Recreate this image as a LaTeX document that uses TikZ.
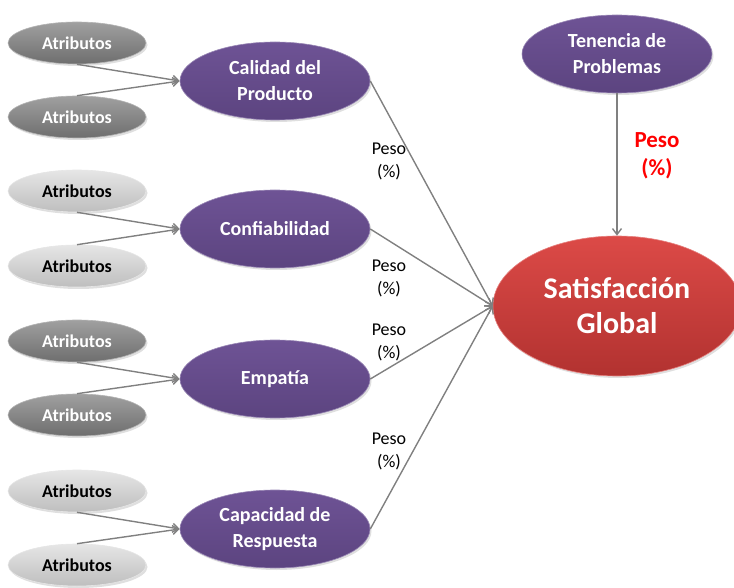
\documentclass[tikz,border=0pt]{standalone}
\usepackage{fontspec}
\setmainfont{Carlito}
\usetikzlibrary{shapes.geometric,arrows.meta,shadows}
\definecolor{dgtop}{HTML}{A0A0A0}
\definecolor{dgbot}{HTML}{6E6E6E}
\definecolor{lgtop}{HTML}{E6E6E6}
\definecolor{lgbot}{HTML}{BEBEBE}
\definecolor{putop}{HTML}{6E5395}
\definecolor{pubot}{HTML}{5C4480}
\definecolor{retop}{HTML}{DC4A47}
\definecolor{rebot}{HTML}{B23230}
\definecolor{arrowgray}{HTML}{808080}
\definecolor{pesored}{HTML}{FF0000}
\tikzset{
  base/.style={ellipse, inner sep=0pt, align=center, font=\bfseries,
    drop shadow={shadow xshift=1.5pt, shadow yshift=-2pt, opacity=0.25}},
  attrdark/.style={base, minimum width=138pt, minimum height=42pt,
    top color=dgtop, bottom color=dgbot, draw=dgtop!80!white, line width=0.6pt,
    text=white, font=\bfseries\fontsize{18}{21}\selectfont},
  attrlight/.style={base, minimum width=138pt, minimum height=42pt,
    top color=lgtop, bottom color=lgbot, draw=lgtop, line width=0.6pt,
    text=black, font=\bfseries\fontsize{18}{21}\selectfont},
  factor/.style={base, minimum width=190pt, minimum height=78pt,
    top color=putop, bottom color=pubot, draw=putop!70!white, line width=0.6pt,
    text=white, font=\bfseries\fontsize{20}{26}\selectfont},
  goal/.style={base, minimum width=248pt, minimum height=140pt,
    top color=retop, bottom color=rebot, draw=retop!70!white, line width=0.6pt,
    text=white, font=\bfseries\fontsize{30}{35}\selectfont},
  conn/.style={draw=arrowgray, line width=1.4pt, -{Straight Barb[length=6pt,width=9pt]}},
  peso/.style={align=center, text=black, font=\fontsize{18}{23}\selectfont},
  pesored/.style={align=center, text=pesored, font=\bfseries\fontsize{23}{28}\selectfont}
}
\begin{document}
\begin{tikzpicture}[x=1pt,y=-1pt]
\useasboundingbox (0,0) rectangle (734,588);
% Atributos
\node[attrdark]  (a1) at (77,43)  {Atributos};
\node[attrdark]  (a2) at (77,117) {Atributos};
\node[attrlight] (a3) at (77,191) {Atributos};
\node[attrlight] (a4) at (77,266) {Atributos};
\node[attrdark]  (a5) at (77,341) {Atributos};
\node[attrdark]  (a6) at (77,415) {Atributos};
\node[attrlight] (a7) at (77,491) {Atributos};
\node[attrlight] (a8) at (77,565) {Atributos};
% factors
\node[factor] (f1) at (275,81)  {Calidad del\\Producto};
\node[factor] (f2) at (275,229) {Confiabilidad};
\node[factor] (f3) at (275,379) {Empatía};
\node[factor] (f4) at (275,529) {Capacidad de\\Respuesta};
\node[factor] (t)  at (617,54)  {Tenencia de\\Problemas};
% goal
\node[goal] (g) at (617,306) {Satisfacción\\Global};
% connectors
\draw[conn] (a1.south) -- (f1.west);
\draw[conn] (a2.north) -- (f1.west);
\draw[conn] (a3.south) -- (f2.west);
\draw[conn] (a4.north) -- (f2.west);
\draw[conn] (a5.south) -- (f3.west);
\draw[conn] (a6.north) -- (f3.west);
\draw[conn] (a7.south) -- (f4.west);
\draw[conn] (a8.north) -- (f4.west);
\draw[conn] (f1.east) -- (g.west);
\draw[conn] (f2.east) -- (g.west);
\draw[conn] (f3.east) -- (g.west);
\draw[conn] (f4.east) -- (g.west);
\draw[conn] (t.south) -- (g.north);
% labels
\node[peso] (p1) at (389,161) {Peso\\(\%)};
\node[peso] (p2) at (389,278) {Peso\\(\%)};
\node[peso] (p3) at (389,342) {Peso\\(\%)};
\node[peso] (p4) at (389,451) {Peso\\(\%)};
\node[pesored] (pr) at (657,156) {Peso\\(\%)};
\end{tikzpicture}
\end{document}
